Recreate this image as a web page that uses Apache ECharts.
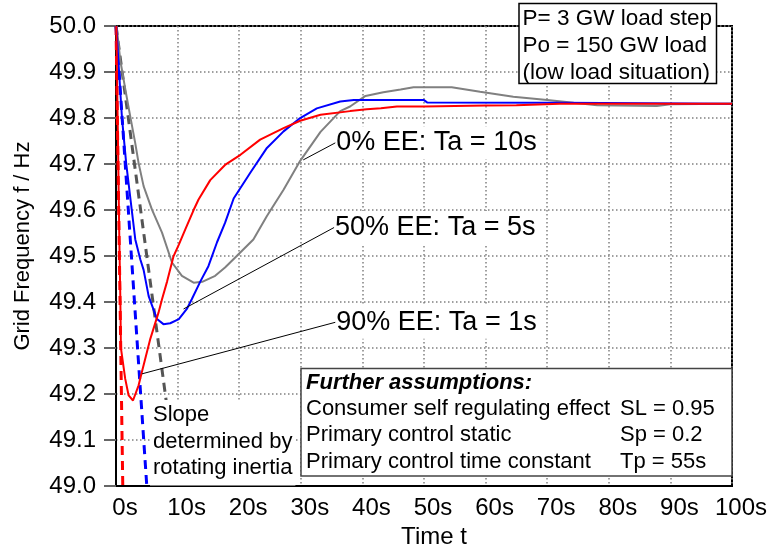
<!DOCTYPE html>
<html><head><meta charset="utf-8">
<script src="https://cdn.jsdelivr.net/npm/echarts@6/dist/echarts.min.js"></script>
<style>html,body{margin:0;padding:0;background:#fff}#c{width:772px;height:554px}</style>
</head><body><div id="c"></div>
<script>
// ---- data ----
const xTickLabels = ['0s','10s','20s','30s','40s','50s','60s','70s','80s','90s','100s'];
const yTickLabels = ['49.0','49.1','49.2','49.3','49.4','49.5','49.6','49.7','49.8','49.9','50.0'];

// 90% EE: Ta = 1s (red)
const redT = [0.05, 0.3, 0.54, 0.7, 0.8, 1.5, 2.05, 2.76, 3.67, 4.2, 5.57, 6.9, 7.47, 8.3, 9.35, 10.2, 11.25, 12.6, 13.4, 15.3, 17.7, 20.2, 23.4, 27.2, 29.9, 33.2, 38, 40.7, 43, 45.6, 50, 55, 60, 65, 72, 100];
const redF = [50.0, 49.77, 49.536, 49.41, 49.30, 49.233, 49.197, 49.186, 49.219, 49.248, 49.32, 49.377, 49.406, 49.445, 49.5, 49.525, 49.558, 49.600, 49.623, 49.665, 49.698, 49.72, 49.753, 49.778, 49.794, 49.807, 49.815, 49.819, 49.821, 49.825, 49.825, 49.826, 49.827, 49.828, 49.831, 49.831];
// 50% EE: Ta = 5s (blue)
const blueT = [0.05, 0.5, 0.97, 1.65, 2.55, 3.13, 3.94, 4.48, 5.3, 6.65, 7.7, 8.8, 10.2, 11.5, 12.3, 13.7, 15.0, 16.4, 17.7, 19.1, 21.8, 24.5, 27.2, 29.9, 32.6, 36.4, 38.6, 50, 50.5, 72, 100];
const blueF = [50.0, 49.90, 49.80, 49.702, 49.601, 49.536, 49.493, 49.47, 49.413, 49.363, 49.352, 49.354, 49.363, 49.385, 49.406, 49.445, 49.478, 49.53, 49.572, 49.625, 49.681, 49.735, 49.771, 49.800, 49.821, 49.836, 49.839, 49.839, 49.834, 49.833, 49.831];
// 0% EE: Ta = 10s (grey)
const grayT = [0.1, 0.7, 1.53, 2.32, 3.13, 3.67, 4.48, 5.84, 7.47, 9.09, 10.7, 12.6, 14.0, 16.1, 17.7, 19.6, 22.3, 24.5, 27.2, 29.9, 33.2, 36.4, 38, 40.5, 43.4, 46.2, 48.3, 54.5, 59.1, 64.5, 70, 74.3, 78.1, 87.8, 90, 100];
const grayF = [50.0, 49.925, 49.861, 49.803, 49.745, 49.702, 49.652, 49.601, 49.551, 49.486, 49.457, 49.442, 49.444, 49.457, 49.475, 49.50, 49.536, 49.587, 49.644, 49.707, 49.770, 49.815, 49.825, 49.848, 49.856, 49.862, 49.867, 49.867, 49.857, 49.846, 49.839, 49.833, 49.828, 49.826, 49.83, 49.831];
// initial slopes determined by rotating inertia
const redSlopeT = [0, 1.1],  redSlopeF = [50.0, 49.0];
const blueSlopeT = [0, 5.0], blueSlopeF = [50.0, 49.0];
const graySlopeT = [0, 10.0], graySlopeF = [50.0, 49.0];

// annotation texts
const labelTexts = ['0% EE: Ta = 10s', '50% EE: Ta = 5s', '90% EE: Ta = 1s'];
const slopeText = 'Slope\ndetermined by\nrotating inertia';
const loadText = ['P= 3 GW load step', 'Po = 150 GW load', '(low load situation)'];
const assumpTitle = 'Further assumptions:';
const assumpNames = ['Consumer self regulating effect', 'Primary control static', 'Primary control time constant'];
const assumpValues = ['SL = 0.95', 'Sp = 0.2', 'Tp = 55s'];

// ---- layout (annotation anchors in data coordinates) ----
const leaderFrom = [[30.4, 49.709], [10.97, 49.385], [4.22, 49.244]];
const leaderTo   = [[35.6, 49.746], [35.4, 49.562], [35.6, 49.356]];

const FONT = '"Liberation Sans", Arial, sans-serif';
const zip = (a, b) => a.map((v, i) => [v, b[i]]);

const chart = echarts.init(document.getElementById('c'), null, {renderer: 'canvas'});

function leader(i) {
  return {
    silent: true, symbol: ['none', 'none'], animation: false,
    label: {show: false},
    lineStyle: {color: '#000', width: 1, type: 'solid'},
    emphasis: {disabled: true},
    data: [[{coord: leaderFrom[i]}, {coord: leaderTo[i]}]]
  };
}
function lineSeries(name, t, f, color, width, type, ml) {
  const s = {
    name, type: 'line', data: zip(t, f), showSymbol: false, symbol: 'none',
    lineStyle: {color, width, type}, itemStyle: {color},
    animation: false, silent: true, z: 3
  };
  if (ml) s.markLine = ml;
  return s;
}

const gridDotted = {show: true, lineStyle: {color: '#808080', width: 1.5, type: [1.5, 2.5]}};

chart.setOption({
  backgroundColor: '#fff',
  animation: false,
  grid: {left: 116, top: 26, right: 40, bottom: 66, show: true, borderColor: '#000', borderWidth: 2, backgroundColor: 'transparent'},
  xAxis: {
    type: 'value', min: 0, max: 100, interval: 10,
    name: 'Time t', nameLocation: 'middle', nameGap: 38,
    nameTextStyle: {fontSize: 24, color: '#000', fontFamily: FONT, padding: [0, 0, 0, 20]},
    axisLine: {show: true, lineStyle: {color: '#000', width: 2}},
    axisTick: {show: false},
    axisLabel: {fontSize: 24, color: '#000', fontFamily: FONT, margin: 10, padding: [0, 0, 0, 18],
      formatter: v => xTickLabels[Math.round(v / 10)]},
    splitLine: gridDotted
  },
  yAxis: {
    type: 'value', min: 49.0, max: 50.0, interval: 0.1,
    name: 'Grid Frequency f / Hz', nameLocation: 'middle', nameGap: 82, nameRotate: 90,
    nameTextStyle: {fontSize: 22, color: '#000', fontFamily: FONT, padding: [0, 0, 0, 20]},
    axisLine: {show: true, lineStyle: {color: '#000', width: 2}},
    axisTick: {show: true, inside: false, length: 12, lineStyle: {color: '#666', width: 2}},
    axisLabel: {fontSize: 24, color: '#000', fontFamily: FONT, margin: 20,
      formatter: v => yTickLabels[Math.round((v - 49) * 10)]},
    splitLine: gridDotted
  },
  series: [
    lineSeries('slope90', redSlopeT, redSlopeF, '#ff0000', 3, [9, 6]),
    lineSeries('slope50', blueSlopeT, blueSlopeF, '#0000ff', 3, [9, 6]),
    lineSeries('slope0', graySlopeT, graySlopeF, '#555555', 3, [9, 6]),
    lineSeries('0% EE', grayT, grayF, '#808080', 2, 'solid', leader(0)),
    lineSeries('50% EE', blueT, blueF, '#0000ff', 2, 'solid', leader(1)),
    lineSeries('90% EE', redT, redF, '#ff0000', 2, 'solid', leader(2))
  ]
});

// ---- annotations ----
const g = [];
leaderTo.forEach((p, i) => {
  const [px, py] = chart.convertToPixel({gridIndex: 0}, p);
  g.push({type: 'text', z: 50, silent: true, x: px + 1, y: py,
    style: {text: labelTexts[i], font: '27px ' + FONT, fill: '#000', verticalAlign: 'middle',
      backgroundColor: '#fff', padding: [3, 3, 3, 0]}});
});
g.push({type: 'text', z: 50, silent: true, x: 150, y: 400,
  style: {text: slopeText, font: '22px ' + FONT, fill: '#000', lineHeight: 26.5,
    backgroundColor: '#fff', padding: [2, 3, 4, 3]}});
// load box (top right)
g.push({type: 'rect', z: 60, silent: true, shape: {x: 519, y: 3.5, width: 197.5, height: 80},
  style: {fill: '#fff', stroke: '#000', lineWidth: 1.5}});
loadText.forEach((t, i) => g.push({type: 'text', z: 61, silent: true, x: 522.5, y: 19 + i * 27,
  style: {text: t, font: '22.5px ' + FONT, fill: '#000', verticalAlign: 'middle'}}));
// assumptions box (bottom right)
g.push({type: 'rect', z: 60, silent: true, shape: {x: 301, y: 368.5, width: 431, height: 107.5},
  style: {fill: '#fff', stroke: '#444', lineWidth: 1.5}});
g.push({type: 'text', z: 61, silent: true, x: 306, y: 383,
  style: {text: assumpTitle, font: 'italic bold 22px ' + FONT, fill: '#000', verticalAlign: 'middle'}});
assumpNames.forEach((t, i) => {
  g.push({type: 'text', z: 61, silent: true, x: 306, y: 409 + i * 26.4,
    style: {text: t, font: '22px ' + FONT, fill: '#000', verticalAlign: 'middle'}});
  g.push({type: 'text', z: 61, silent: true, x: 620, y: 409 + i * 26.4,
    style: {text: assumpValues[i], font: '22px ' + FONT, fill: '#000', verticalAlign: 'middle'}});
});
chart.setOption({graphic: g});
</script>
</body></html>
